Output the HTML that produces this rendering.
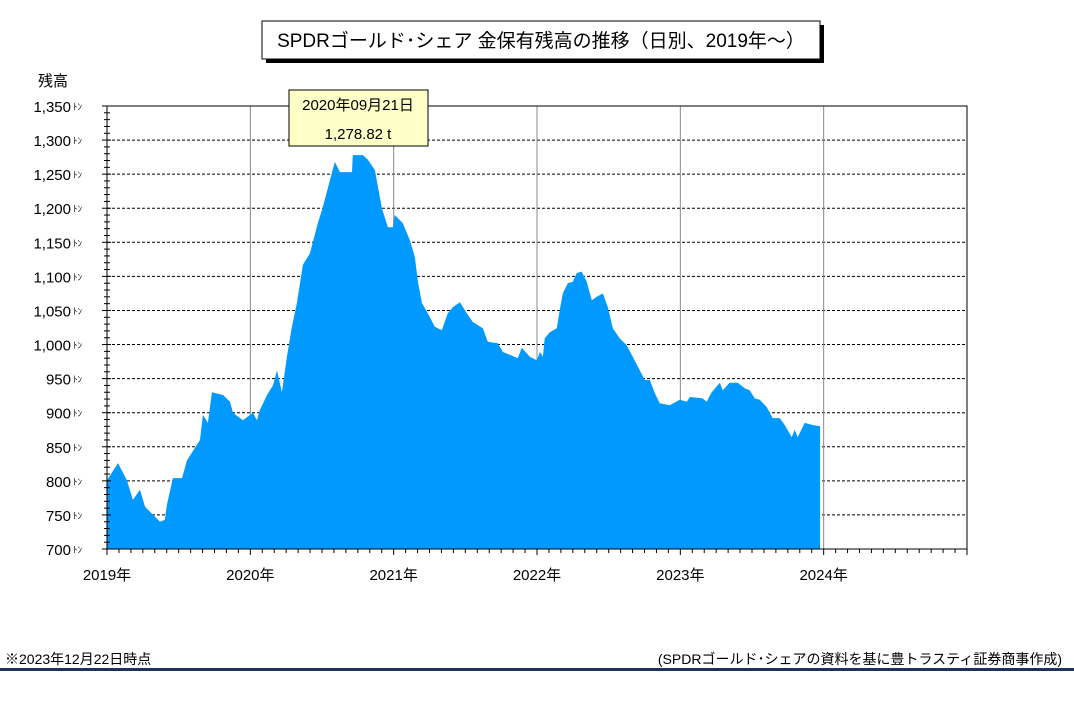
<!DOCTYPE html>
<html><head><meta charset="utf-8"><style>
body{margin:0;background:#fff;width:1074px;height:707px;overflow:hidden;font-family:"Liberation Sans","Noto Sans CJK JP",sans-serif;}
svg text{font-family:"Liberation Sans","Noto Sans CJK JP",sans-serif;}
</style></head><body>
<svg id="chart" width="1074" height="707" xmlns="http://www.w3.org/2000/svg">
<rect x="266" y="25" width="558" height="38" fill="#000"/>
<rect x="262" y="21" width="558" height="38" fill="#fff" stroke="#000"/>
<text x="541" y="47" font-size="19" text-anchor="middle">SPDRゴールド･シェア 金保有残高の推移（日別、2019年～）</text>
<text x="38" y="86" font-size="15">残高</text>
<g id="grid"></g>
<path id="area" fill="#0099ff"/>
<g id="axes"></g>
<rect x="289" y="90" width="139" height="56" fill="#ffffc8" stroke="#000"/>
<text x="358" y="110" font-size="15" text-anchor="middle">2020年09月21日</text>
<text x="358" y="139" font-size="15" text-anchor="middle">1,278.82 t</text>
<text x="5" y="664" font-size="14">※2023年12月22日時点</text>
<text x="1062" y="664" font-size="14" text-anchor="end">(SPDRゴールド･シェアの資料を基に豊トラスティ証券商事作成)</text>
<rect x="0" y="668" width="1074" height="3" fill="#1f2f5f"/>
</svg>
<script>
const dates=[2019.000,2019.077,2019.139,2019.181,2019.230,2019.265,2019.370,2019.404,2019.418,2019.460,2019.523,2019.558,2019.649,2019.669,2019.704,2019.732,2019.809,2019.858,2019.879,2019.948,2020.018,2020.046,2020.067,2020.116,2020.158,2020.186,2020.220,2020.255,2020.290,2020.325,2020.367,2020.416,2020.471,2020.506,2020.555,2020.590,2020.625,2020.709,2020.715,2020.785,2020.820,2020.869,2020.918,2020.960,2020.994,2021.008,2021.064,2021.113,2021.148,2021.169,2021.197,2021.238,2021.287,2021.336,2021.378,2021.413,2021.462,2021.510,2021.552,2021.622,2021.657,2021.727,2021.762,2021.810,2021.866,2021.894,2021.950,2021.999,2022.020,2022.041,2022.054,2022.089,2022.138,2022.159,2022.180,2022.215,2022.250,2022.278,2022.312,2022.347,2022.382,2022.417,2022.459,2022.494,2022.529,2022.577,2022.626,2022.668,2022.717,2022.752,2022.787,2022.821,2022.856,2022.926,2022.996,2023.045,2023.066,2023.156,2023.184,2023.219,2023.275,2023.296,2023.344,2023.400,2023.449,2023.484,2023.519,2023.554,2023.603,2023.644,2023.693,2023.728,2023.777,2023.798,2023.819,2023.868,2023.923,2023.975];
const values=[801,826,801,772,787,762,740,743,765,804,804,830,860,897,885,930,926,916,900,889,900,889,904,926,940,962,930,982,1026,1061,1117,1134,1178,1202,1241,1268,1253,1253,1278,1278,1271,1256,1200,1172,1172,1190,1178,1153,1128,1092,1061,1046,1026,1021,1046,1055,1062,1046,1033,1024,1004,1002,989,985,980,995,982,977,989,982,1009,1018,1024,1051,1075,1090,1092,1105,1107,1092,1065,1070,1075,1055,1024,1009,999,982,962,948,948,929,914,911,919,916,923,921,916,930,944,933,944,944,936,933,921,919,908,892,892,882,864,875,864,885,882,880];
const yTicks=[700,750,800,850,900,950,1000,1050,1100,1150,1200,1250,1300,1350];
const yearLabels=[2019,2020,2021,2022,2023,2024];
const X0=107,X1=967,Y0=549,Y1=106,YMIN=700,YMAX=1350,T0=2019,T1=2025;
const xs=t=>X0+(t-T0)/(T1-T0)*(X1-X0);
const ys=v=>Y0-(v-YMIN)/(YMAX-YMIN)*(Y0-Y1);
const NS="http://www.w3.org/2000/svg";
function mk(tag,attrs,parent){const e=document.createElementNS(NS,tag);for(const k in attrs)e.setAttribute(k,attrs[k]);parent.appendChild(e);return e;}
const grid=document.getElementById('grid'),axes=document.getElementById('axes');
mk('rect',{x:X0,y:Y1,width:X1-X0,height:Y0-Y1,fill:'#fff'},grid);
yTicks.forEach(v=>{
 if(v>YMIN&&v<YMAX){const l=mk('line',{x1:X0,x2:X1,y1:ys(v),y2:ys(v),stroke:'#000','stroke-dasharray':'3,2','stroke-width':1},grid);
 
 }
 const t=mk('text',{x:71,y:ys(v)+6,'font-size':15,'text-anchor':'end'},axes);
 
 
 t.textContent=v.toLocaleString('en-US');
 const u=mk('text',{x:73,y:ys(v)+4,'font-size':9},axes);
 
 
 u.textContent='ﾄﾝ';
});
yearLabels.forEach(y=>{
 const x=xs(y);
 if(y>T0){const l=mk('line',{x1:x,x2:x,y1:Y1,y2:Y0,stroke:'#888','stroke-width':1},grid);
 
 }
 const t=mk('text',{x:x,y:580,'font-size':15,'text-anchor':'middle'},axes);
 
 
 t.textContent=y+'年';
});
let d='M'+xs(dates[0])+','+Y0;
dates.forEach((t,i)=>{d+=' L'+xs(t).toFixed(1)+','+ys(values[i]).toFixed(1);});
d+=' L'+xs(dates[dates.length-1]).toFixed(1)+','+Y0+' Z';
document.getElementById('area').setAttribute('d',d);
mk('rect',{x:X0,y:Y1,width:X1-X0,height:Y0-Y1,fill:'none',stroke:'#000','stroke-width':1},axes);
for(let v=YMIN;v<=YMAX;v+=10){const big=v%50===0;mk('line',{x1:X0-(big?5:3),x2:X0+(big?4:3),y1:ys(v),y2:ys(v),stroke:'#000'},axes);}
for(let m=0;m<=72;m++){const x=xs(T0+m/12);const big=m%12===0;mk('line',{x1:x,x2:x,y1:Y0,y2:Y0+(big?6:4),stroke:'#000'},axes);}
</script>
</body></html>
